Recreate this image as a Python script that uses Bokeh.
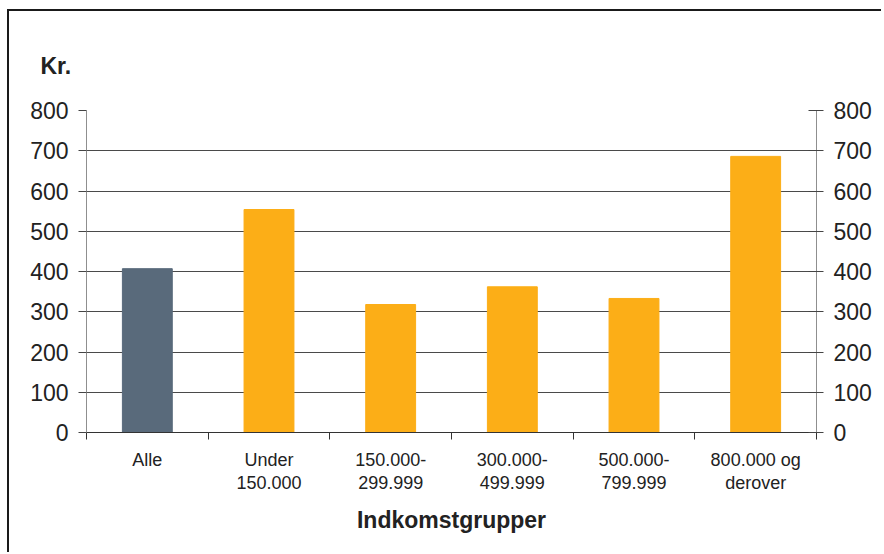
from bokeh.plotting import figure
from bokeh.models import FixedTicker, LinearAxis, Range1d, ColumnDataSource
from bokeh.embed import file_html
from bokeh.resources import INLINE

# Average amount (kr.) per income group
groups = ["Alle", "Under\n150.000", "150.000-\n299.999", "300.000-\n499.999",
          "500.000-\n799.999", "800.000 og\nderover"]
amounts = [407, 554, 318, 362, 333, 686]
bar_colors = ["#596a7b", "#fcae17", "#fcae17", "#fcae17", "#fcae17", "#fcae17"]
y_ticks = [0, 100, 200, 300, 400, 500, 600, 700, 800]

FONT = "Liberation Sans"
TEXT = "#222222"

centers = [i + 0.5 for i in range(len(groups))]
source = ColumnDataSource(dict(x=centers, top=amounts, color=bar_colors))

p = figure(width=875, height=543,
           x_range=Range1d(0, len(groups)), y_range=Range1d(0, 800),
           output_backend="svg", toolbar_location=None,
           min_border_left=77, min_border_right=68,
           min_border_top=99, min_border_bottom=122)

# outer frame: a rule along the top and left edges of the chart box;
# the right edge of the box runs past the page and is clipped away
p.styles = {"box-shadow": "-2px -2px 0px 0px #1a1a1a",
            "clip-path": "inset(-3px 3px 0px -3px)",
            "margin-left": "9px", "margin-top": "11px"}

p.outline_line_color = None
p.background_fill_color = "white"
p.border_fill_color = "white"

p.vbar(x="x", top="top", width=0.41, color="color", source=source)

# horizontal gridlines
p.xgrid.visible = False
p.ygrid.ticker = FixedTicker(ticks=y_ticks)
p.ygrid.grid_line_color = "#4a4a4a"
p.ygrid.grid_line_width = 1

# title "Kr." in the upper left corner
p.title.text = "Kr."
p.title.text_font = FONT
p.title.text_font_size = "23px"
p.title.text_font_style = "bold"
p.title.text_color = TEXT
p.title.align = "left"
p.title.offset = -46
p.title.standoff = 63

# x axis: labels centred under bars, tick marks on group boundaries
xa = p.xaxis[0]
xa.ticker = FixedTicker(ticks=centers, minor_ticks=list(range(len(groups) + 1)))
xa.major_label_overrides = {c: g for c, g in zip(centers, groups)}
xa.major_tick_line_color = None
xa.major_tick_out = 0
xa.major_tick_in = 0
xa.minor_tick_line_color = "#333333"
xa.minor_tick_out = 7
xa.minor_tick_in = 0
xa.axis_line_color = "#333333"
xa.major_label_text_font = FONT
xa.major_label_text_font_size = "18px"
xa.major_label_text_color = TEXT
xa.major_label_text_line_height = 1.15
xa.major_label_standoff = 10
xa.axis_label = "Indkomstgrupper"
xa.axis_label_text_font = FONT
xa.axis_label_text_font_size = "23px"
xa.axis_label_text_font_style = "bold"
xa.axis_label_text_color = TEXT
xa.axis_label_standoff = 11

def style_y(ax, out, inside):
    ax.ticker = FixedTicker(ticks=y_ticks)
    ax.minor_tick_line_color = None
    ax.axis_line_color = "#8f8f8f"
    ax.major_tick_line_color = "#444444"
    ax.major_tick_out = out
    ax.major_tick_in = inside
    ax.major_label_text_font = FONT
    ax.major_label_text_font_size = "23px"
    ax.major_label_text_color = TEXT
    ax.major_label_standoff = 10

ya = p.yaxis[0]
style_y(ya, 8, 0)

ra = LinearAxis()
style_y(ra, 7, 8)
p.add_layout(ra, "right")

open("out.html", "w").write(file_html(p, INLINE))
